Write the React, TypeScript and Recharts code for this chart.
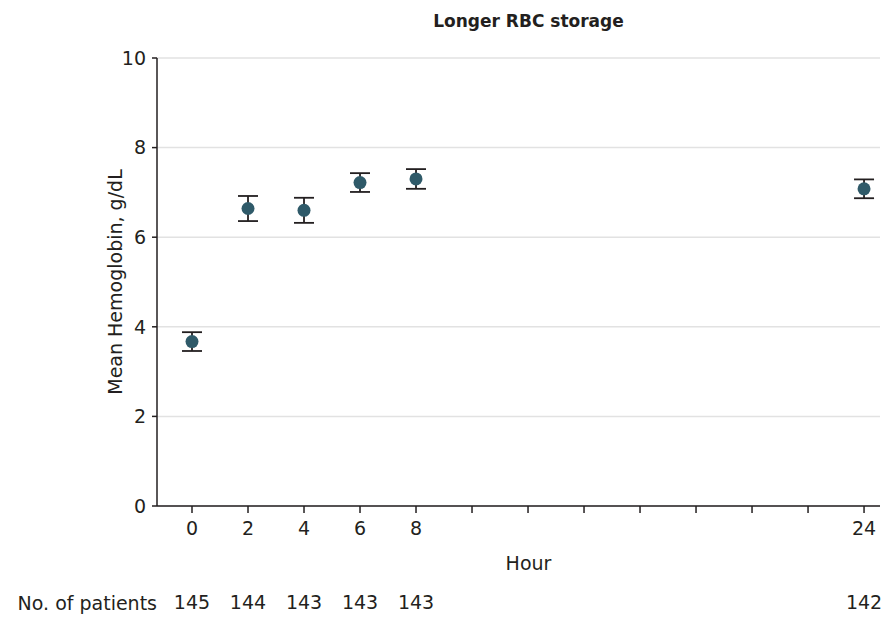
import React from 'react';
import { ScatterChart, Scatter, XAxis, YAxis, CartesianGrid, ErrorBar, Label } from 'recharts';

const hours = [0, 2, 4, 6, 8, 24];
const meanHb = [3.67, 6.64, 6.6, 7.22, 7.3, 7.08];
const ciHalf = [0.21, 0.28, 0.28, 0.21, 0.22, 0.21];
const patients = [145, 144, 143, 143, 143, 142];
const xTicks = [0, 2, 4, 6, 8, 10, 12, 14, 16, 18, 20, 22, 24];
const labeledHours = [0, 2, 4, 6, 8, 24];
const yTicks = [0, 2, 4, 6, 8, 10];

const data = hours.map((h, i) => ({ hour: h, hb: meanHb[i], err: ciHalf[i] }));

const FONT = '"DejaVu Sans", "Noto Sans", sans-serif';
const TEXT = '#231f20';

const Dot = (props: any) => <circle cx={props.cx} cy={props.cy} r={6.5} fill="#2f5a69" />;

const HourTick = (props: any) => {
  const { x, y, payload } = props;
  const i = labeledHours.indexOf(payload.value);
  if (i < 0) return <g />;
  return (
    <g>
      <text x={x} y={y} dy="0.71em" textAnchor="middle" fontSize={19} fontFamily={FONT} fill={TEXT}>
        {String(payload.value)}
      </text>
      <text x={x} y={y + 74} dy="0.71em" textAnchor="middle" fontSize={19} fontFamily={FONT} fill={TEXT}>
        {String(patients[i])}
      </text>
    </g>
  );
};

export default function App() {
  return (
    <div style={{ position: 'absolute', left: 0, top: 0, width: 885, height: 617, background: '#fff' }}>
      <ScatterChart width={885} height={617} margin={{ top: 58, right: 5, bottom: 0, left: 0 }} style={{ fontFamily: FONT }}>
        <text x={528.5} y={27} textAnchor="middle" fontFamily={FONT} fontSize={17} fontWeight="bold" fill={TEXT}>
          Longer RBC storage
        </text>
        <CartesianGrid vertical={false} stroke="#e2e2e2" strokeWidth={1.5} />
        <XAxis
          dataKey="hour"
          type="number"
          domain={[-1.25, 24.57]}
          ticks={xTicks}
          interval={0}
          allowDataOverflow
          height={111}
          tickSize={7}
          tickMargin={9}
          stroke="#231f20"
          strokeWidth={1.5}
          tick={<HourTick />}
        >
          <Label
            content={(p: any) => (
              <g>
                <text x={p.viewBox.x + p.viewBox.width / 2 + 10} y={p.viewBox.y + 64} textAnchor="middle" fontSize={19} fontFamily={FONT} fill={TEXT}>
                  Hour
                </text>
                <text x={p.viewBox.x} y={p.viewBox.y + 104} textAnchor="end" fontSize={19} fontFamily={FONT} fill={TEXT}>
                  No. of patients
                </text>
              </g>
            )}
          />
        </XAxis>
        <YAxis
          dataKey="hb"
          type="number"
          domain={[0, 10]}
          ticks={yTicks}
          interval={0}
          width={157}
          tickSize={5}
          tickMargin={6}
          stroke="#231f20"
          strokeWidth={1.5}
          tick={{ fill: TEXT, fontSize: 19, fontFamily: FONT }}
        >
          <Label
            content={(p: any) => {
              const cx = p.viewBox.x + 115;
              const cy = p.viewBox.y + p.viewBox.height / 2;
              return (
                <text x={cx} y={cy} textAnchor="middle" dominantBaseline="central" transform={`rotate(-90 ${cx} ${cy})`} fontSize={19} fontFamily={FONT} fill={TEXT}>
                  Mean Hemoglobin, g/dL
                </text>
              );
            }}
          />
        </YAxis>
        <Scatter data={data} dataKey="hb" shape={Dot} isAnimationActive={false}>
          <ErrorBar dataKey="err" direction="y" width={10} stroke="#231f20" strokeWidth={1.8} isAnimationActive={false} />
        </Scatter>
      </ScatterChart>
    </div>
  );
}
